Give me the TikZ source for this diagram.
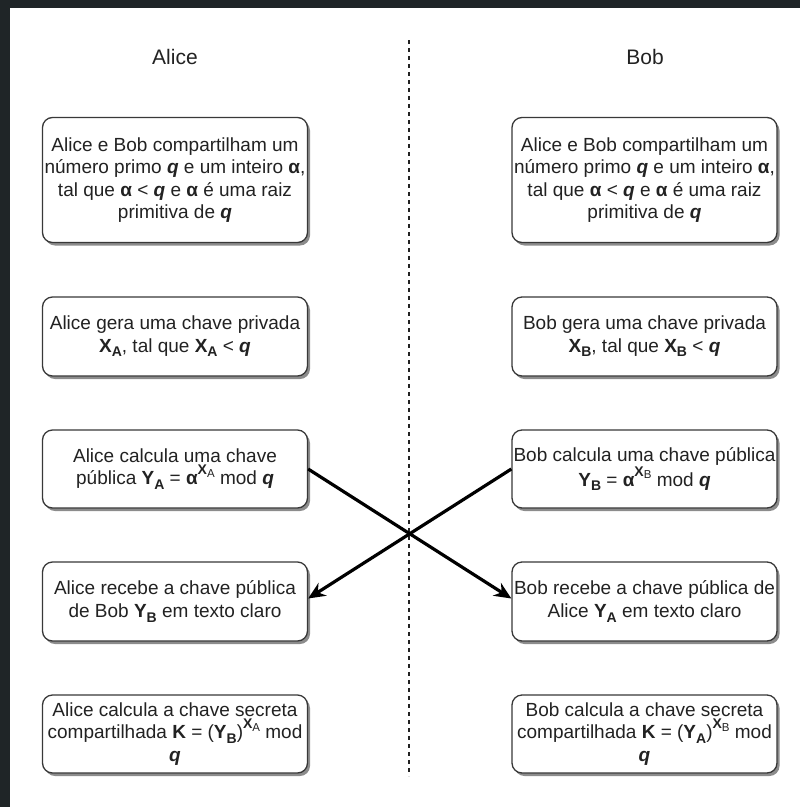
\documentclass[tikz,border=0pt]{standalone}
\usepackage{fontspec}
\setmainfont{Liberation Sans}
\usetikzlibrary{arrows.meta,shadows}
\definecolor{frame}{HTML}{1F2527}
\definecolor{ink}{HTML}{222222}
\newcommand\bq{\textbf{\textit{q}}}
\newcommand\ba{\textbf{α}}
\newcommand\vsub[2]{\textbf{#1}\raisebox{-0.45ex}{\fontsize{14}{14}\selectfont\textbf{#2}}}
\newcommand\vsup[2]{\raisebox{1.0ex}{\fontsize{14}{14}\selectfont\textbf{#1}\raisebox{-0.4ex}{\fontsize{11.5}{11.5}\selectfont #2}}}
\begin{document}
\begin{tikzpicture}[x=1pt,y=-1pt,
  stepbox/.style={draw=ink!90, line width=1.3pt, rounded corners=10pt, fill=white,
    minimum width=265pt, align=center, text=ink, inner sep=0pt,
    font=\fontsize{19}{22.5}\selectfont,
    drop shadow={shadow xshift=2.5pt, shadow yshift=-3pt, fill=black, opacity=0.45}},
  head/.style={text=ink, font=\fontsize{21}{24}\selectfont},
  flow/.style={line width=3.2pt, -{Stealth[length=17pt, width=15pt]}}]
\useasboundingbox (0,0) rectangle (800,807);
\fill[frame] (0,0) rectangle (800,807);
\fill[white] (10,8) rectangle (800,807);

% column headings and separator
\node[head] (alice) at (175,57) {Alice};
\node[head] (bob) at (645,57) {Bob};
\draw[ink, line width=1.2pt, dash pattern=on 4pt off 4pt] (409,40) -- (409,776);

% Alice's steps
\node[stepbox, minimum height=125pt] (a1) at (175,180) {Alice e Bob compartilham um\\ número primo \bq{} e um inteiro \ba,\\ tal que \ba{} < \bq{} e \ba{} é uma raiz\\ primitiva de \bq};
\node[stepbox, minimum height=79pt] (a2) at (175,336.5) {Alice gera uma chave privada\\ \vsub{X}{A}, tal que \vsub{X}{A} < \bq};
\node[stepbox, minimum height=78pt] (a3) at (175,469) {Alice calcula uma chave\\ pública \vsub{Y}{A} = \ba\vsup{X}{A} mod \bq};
\node[stepbox, minimum height=79pt] (a4) at (175,601.5) {Alice recebe a chave pública\\ de Bob \vsub{Y}{B} em texto claro};
\node[stepbox, minimum height=78pt] (a5) at (175,734) {Alice calcula a chave secreta\\ compartilhada \textbf{K} = (\vsub{Y}{B})\vsup{X}{A} mod\\ \bq};

% Bob's steps
\node[stepbox, minimum height=125pt] (b1) at (644.5,180) {Alice e Bob compartilham um\\ número primo \bq{} e um inteiro \ba,\\ tal que \ba{} < \bq{} e \ba{} é uma raiz\\ primitiva de \bq};
\node[stepbox, minimum height=79pt] (b2) at (644.5,336.5) {Bob gera uma chave privada\\ \vsub{X}{B}, tal que \vsub{X}{B} < \bq};
\node[stepbox, minimum height=78pt] (b3) at (644.5,469) {Bob calcula uma chave pública\\ \vsub{Y}{B} = \ba\vsup{X}{B} mod \bq};
\node[stepbox, minimum height=79pt] (b4) at (644.5,601.5) {Bob recebe a chave pública de\\ Alice \vsub{Y}{A} em texto claro};
\node[stepbox, minimum height=78pt] (b5) at (644.5,734) {Bob calcula a chave secreta\\ compartilhada \textbf{K} = (\vsub{Y}{A})\vsup{X}{B} mod\\ \bq};

% public key exchange
\draw[flow] (a3.east) -- ([yshift=3pt]b4.west);
\draw[flow] (b3.west) -- ([yshift=3pt]a4.east);
\end{tikzpicture}
\end{document}
